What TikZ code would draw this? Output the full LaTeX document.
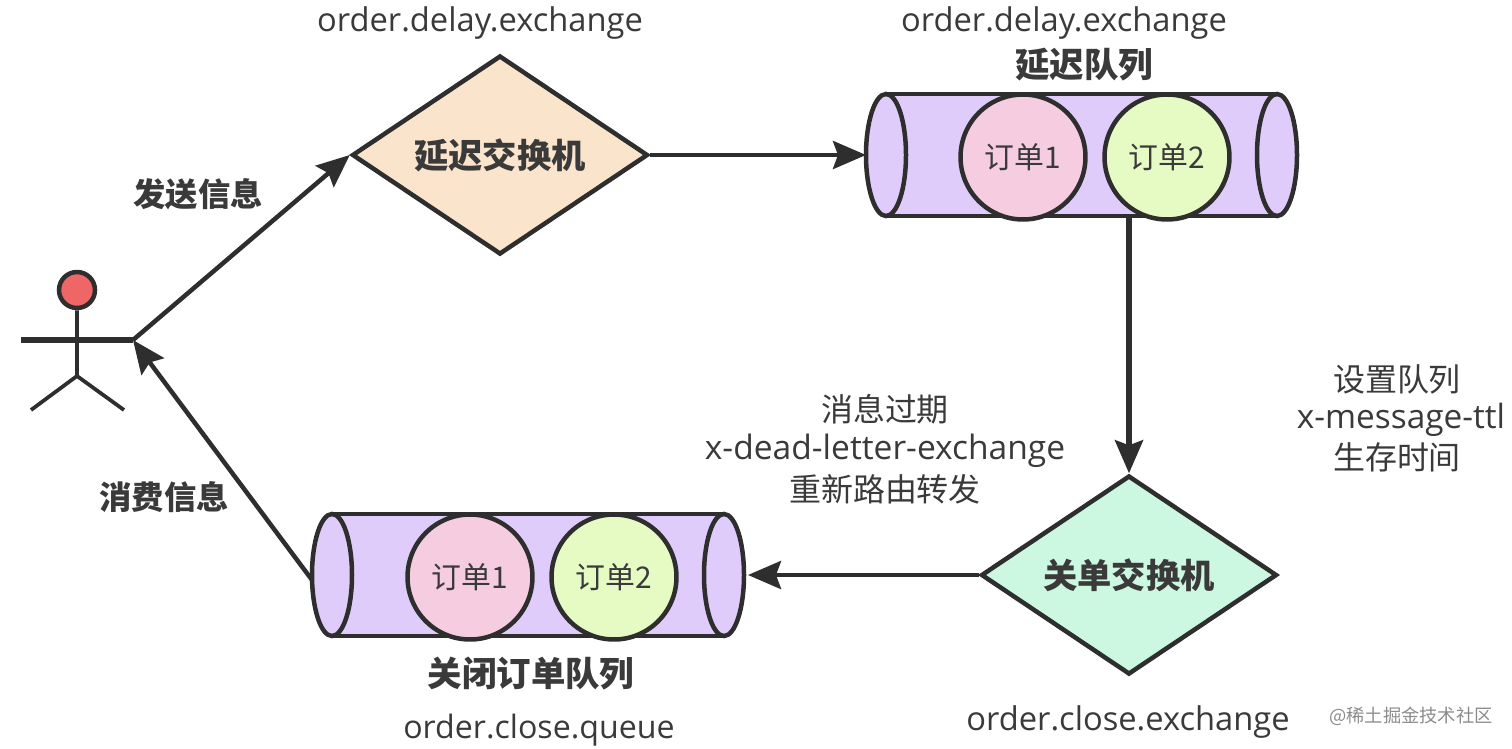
\documentclass[tikz,border=0pt]{standalone}
\usepackage{fontspec}
\setmainfont{Open Sans}
\newfontfamily\cjk{Noto Sans CJK SC}
\usetikzlibrary{arrows.meta,shapes.geometric}
\definecolor{lc}{HTML}{2E2E2E}
\definecolor{tc}{HTML}{3A3A3A}
\definecolor{cyl}{HTML}{E0CCFA}
\definecolor{pk}{HTML}{F5CCE0}
\definecolor{gr}{HTML}{E6FAC4}
\definecolor{peach}{HTML}{FAE5CC}
\definecolor{mint}{HTML}{CCF7E0}
\definecolor{head}{HTML}{EE6666}
\tikzset{
 px/.style={x=0.02cm,y=-0.02cm},
 ln/.style={draw=lc,line width=0.09cm},
 limb/.style={draw=lc,line width=0.075cm},
 conn/.style={draw=lc,line width=0.09cm,-{Stealth[length=0.66cm,width=0.56cm,inset=0.1cm]}},
 txt/.style={text=tc,font=\fontsize{18.2}{22}\selectfont\cjk,align=center,inner sep=0pt},
 bold/.style={text=tc,font=\fontsize{18.4}{22}\selectfont\cjk\bfseries,align=center,inner sep=0pt},
 boldq/.style={text=tc,font=\fontsize{19.6}{23}\selectfont\cjk\bfseries,align=center,inner sep=0pt},
 latin/.style={text=tc,font=\fontsize{18.6}{22}\selectfont,inner sep=0pt},
 dia/.style={diamond,aspect=1.49,ln,minimum width=5.92cm,minimum height=3.98cm,inner sep=0pt,text=tc,font=\fontsize{19.5}{23}\selectfont\cjk\bfseries},
 ord/.style={circle,ln,minimum size=2.5cm,inner sep=0pt,text=tc,font=\fontsize{17}{20}\selectfont\cjk},
}
\begin{document}
\begin{tikzpicture}[px]
\useasboundingbox (0,0) rectangle (1512,748);
\fill[white] (0,0) rectangle (1512,748);
% top queue
\fill[cyl] (886,94) rectangle (1277,216);
\draw[ln] (886,94) -- (1277,94) (886,216) -- (1277,216);
\draw[ln,fill=cyl] (886,155) ellipse [x radius=20,y radius=61];
\draw[ln,fill=cyl] (1277,155) ellipse [x radius=20,y radius=61];
\node[ord,fill=pk] (o1) at (1023,157) {订单1};
\node[ord,fill=gr] (o2) at (1167,157) {订单2};
\coordinate (qtl) at (866,155);
\coordinate (qtb) at (1129,217);
% bottom queue
\fill[cyl] (332,514) rectangle (724,636);
\draw[ln] (332,514) -- (724,514) (332,636) -- (724,636);
\draw[ln,fill=cyl] (332,575) ellipse [x radius=20,y radius=61];
\draw[ln,fill=cyl] (724,575) ellipse [x radius=20,y radius=61];
\node[ord,fill=pk] (o3) at (470,577) {订单1};
\node[ord,fill=gr] (o4) at (614,577) {订单2};
\coordinate (qbr) at (748,575);
\coordinate (qbl) at (312,580);
% diamonds
\node[dia,fill=peach] (d1) at (500,155) {\raisebox{-2pt}{延迟交换机}};
\node[dia,fill=mint] (d2) at (1129,575) {\raisebox{-2pt}{关单交换机}};
% actor
\node[circle,ln,fill=head,minimum size=0.72cm,inner sep=0pt] (hd) at (77,290) {};
\coordinate (hip) at (77,376);
\coordinate (la) at (21,340);
\coordinate (ra) at (133,340);
\coordinate (lf) at (31,410);
\coordinate (rf) at (124,410);
\draw[limb] (hd) -- (hip) (lf) -- (hip) -- (rf);
\draw[ln,line width=0.11cm] (la) -- (ra);
% connectors
\draw[conn] (ra) -- (d1.west);
\draw[conn] (d1.east) -- (qtl);
\draw[conn,line width=0.11cm] (qtb) -- (d2.north);
\draw[conn] (d2.west) -- (qbr);
\draw[conn] (qbl) -- (ra);
% labels
\node[latin] (t1) at (480,23) {order.delay.exchange};
\node[latin] (t2) at (1064,23) {order.delay.exchange};
\node[boldq] (t3) at (1084,65) {延迟队列};
\node[bold] (t4) at (198,194) {发送信息};
\node[bold] (t5) at (164,497) {消费信息};
\node[boldq] (t6) at (531,674) {关闭订单队列};
\node[latin,font=\fontsize{18.3}{22}\selectfont] (t7) at (539,730) {order.close.queue};
\node[latin] (t8) at (1128,722) {order.close.exchange};
\node[txt] (t9) at (885,409) {消息过期};
\node[latin,font=\fontsize{19.1}{22}\selectfont] (t10) at (885,451) {x-dead-letter-exchange};
\node[txt] (t11) at (885,489) {重新路由转发};
\node[txt] (t12) at (1397,379) {设置队列};
\node[latin,font=\fontsize{19}{22}\selectfont] (t13) at (1401,420) {x-message-ttl};
\node[txt] (t14) at (1397,457) {生存时间};
\node[text=black!45,font=\fontsize{10.4}{12}\selectfont\cjk,inner sep=0pt] (wm) at (1411,716) {@稀土掘金技术社区};
\end{tikzpicture}
\end{document}
